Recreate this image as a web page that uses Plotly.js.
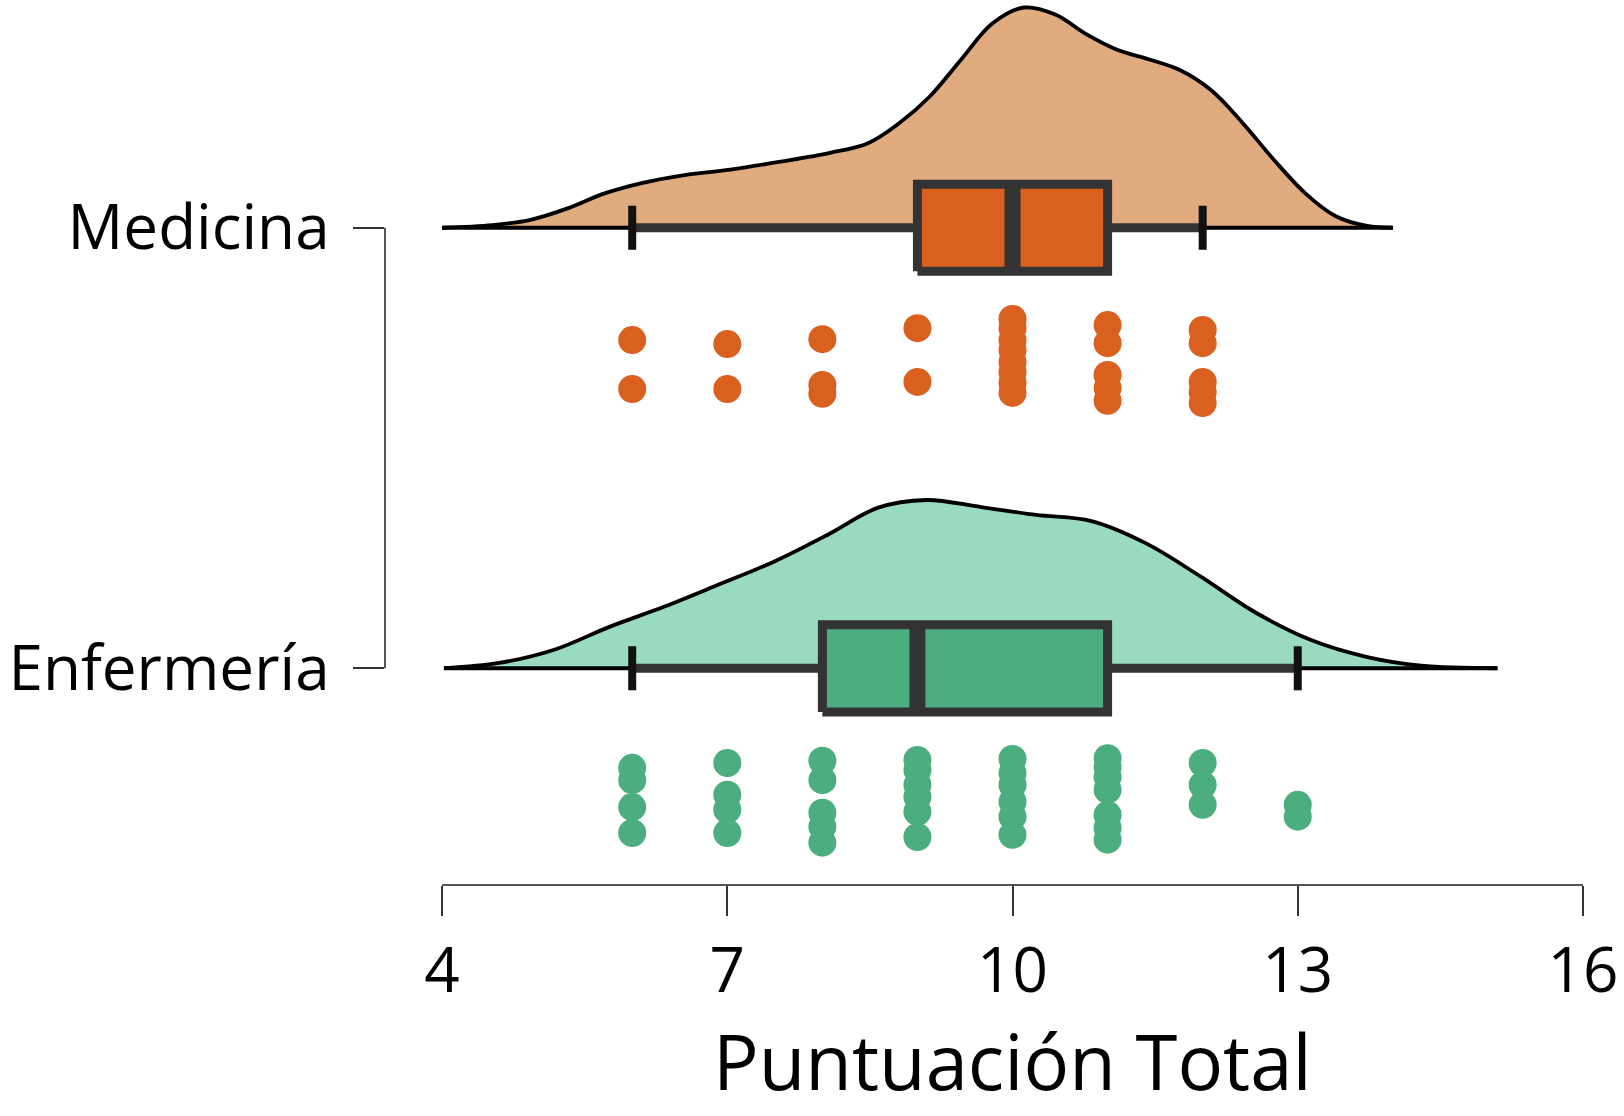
<!DOCTYPE html>
<html><head><meta charset="utf-8">
<script src="https://cdn.plot.ly/plotly-3.0.1.min.js"></script>
<style>html,body{margin:0;padding:0;background:#fff;}</style>
</head><body>
<div id="chart" style="width:1624px;height:1116px"></div>
<script>
// ---------- DATA ----------
const grupos = ['Medicina', 'Enfermería'];
const posGrupo = [2, 1];
const ticksX = [4, 7, 10, 13, 16];
const tituloX = 'Puntuación Total';

// Density (kernel estimate)
const densMedX = [4.0,4.53,4.93,5.32,5.71,6.11,6.50,7.03,7.56,8.08,8.48,8.80,9.13,9.46,9.79,10.12,10.45,10.77,11.10,11.44,11.76,12.09,12.42,12.75,13.08,13.40,13.73,14.0];
const densMedY = [0,0.003,0.009,0.022,0.039,0.051,0.059,0.066,0.075,0.085,0.096,0.118,0.149,0.191,0.232,0.250,0.242,0.220,0.202,0.191,0.179,0.156,0.119,0.077,0.039,0.013,0.002,0];
const densEnfX = [4.02,4.60,5.18,5.76,6.34,6.91,7.49,8.08,8.58,9.09,9.67,10.25,10.83,11.40,11.98,12.56,13.14,13.72,14.30,15.10];
const densEnfY = [0,0.006,0.021,0.047,0.070,0.095,0.121,0.153,0.182,0.191,0.183,0.174,0.167,0.142,0.104,0.063,0.032,0.013,0.003,0];

// Box statistics [Medicina, Enfermería]
const q1 = [9, 8];
const mediana = [10, 9];
const q3 = [11, 11];
const bigoteMin = [6, 6];
const bigoteMax = [12, 13];

// Individual scores and their vertical jitter
const puntosMed = [6,6,7,7,8,8,8,9,9,10,10,10,10,10,10,10,10,11,11,11,11,11,12,12,12,12,12];
const jitterMed = [-0.255,-0.366,-0.264,-0.366,-0.253,-0.357,-0.377,-0.228,-0.350,
  -0.207,-0.228,-0.255,-0.278,-0.305,-0.328,-0.352,-0.375,
  -0.221,-0.262,-0.334,-0.364,-0.393,
  -0.232,-0.262,-0.350,-0.373,-0.398];
const puntosEnf = [6,6,6,6,7,7,7,7,8,8,8,8,8,9,9,9,9,9,9,10,10,10,10,10,10,11,11,11,11,11,11,11,12,12,12,13,13];
const jitterEnf = [-0.226,-0.254,-0.315,-0.374,
  -0.215,-0.287,-0.321,-0.374,
  -0.210,-0.254,-0.328,-0.360,-0.396,
  -0.208,-0.231,-0.265,-0.292,-0.326,-0.383,
  -0.206,-0.238,-0.265,-0.303,-0.337,-0.378,
  -0.204,-0.224,-0.247,-0.276,-0.333,-0.362,-0.389,
  -0.215,-0.265,-0.310,
  -0.310,-0.337];

// ---------- STYLE ----------
const colDens = ['#E1AB80', '#9ADBC0'];
const colBox = ['#D9601F', '#4CAE7E'];
const colPts = ['#D9601F', '#4CAE7E'];
const escalaDens = 2.0;   // y units per density unit
const mediaCaja = 0.099;  // half box height (y units)
const mediaTope = 0.05;   // half whisker-cap height
const FONT = '"Open Sans", "Noto Sans", sans-serif';

const densX = [densMedX, densEnfX];
const densY = [densMedY, densEnfY];
const puntos = [puntosMed, puntosEnf];
const jitter = [jitterMed, jitterEnf];

const traces = [];
grupos.forEach((g, i) => {
  const b = posGrupo[i];
  traces.push({
    type: 'scatter', mode: 'lines', x: densX[i], y: densY[i].map(d => b + d * escalaDens),
    fill: 'toself', fillcolor: colDens[i],
    line: {color: '#000', width: 3.8, shape: 'spline', smoothing: 1},
    hoverinfo: 'skip', showlegend: false
  });
  const xs = densX[i];
  traces.push({
    type: 'scatter', mode: 'lines', x: [xs[0], xs[xs.length - 1]], y: [b, b],
    line: {color: '#000', width: 3.8}, hoverinfo: 'skip', showlegend: false
  });
  traces.push({
    type: 'scatter', mode: 'lines',
    x: [bigoteMin[i], q1[i], null, q3[i], bigoteMax[i]], y: [b, b, null, b, b],
    line: {color: '#333333', width: 9}, hoverinfo: 'skip', showlegend: false
  });
  traces.push({
    type: 'scatter', mode: 'lines',
    x: [bigoteMin[i], bigoteMin[i], null, bigoteMax[i], bigoteMax[i]],
    y: [b - mediaTope, b + mediaTope, null, b - mediaTope, b + mediaTope],
    line: {color: '#111111', width: 8}, hoverinfo: 'skip', showlegend: false
  });
  traces.push({
    type: 'scatter', mode: 'lines',
    x: [q1[i], q3[i], q3[i], q1[i], q1[i]],
    y: [b - mediaCaja, b - mediaCaja, b + mediaCaja, b + mediaCaja, b - mediaCaja],
    fill: 'toself', fillcolor: colBox[i],
    line: {color: '#333333', width: 9}, hoverinfo: 'skip', showlegend: false
  });
  traces.push({
    type: 'scatter', mode: 'lines',
    x: [mediana[i], mediana[i]], y: [b - mediaCaja, b + mediaCaja],
    line: {color: '#333333', width: 16}, hoverinfo: 'skip', showlegend: false
  });
  traces.push({
    type: 'scatter', mode: 'markers',
    x: puntos[i], y: jitter[i].map(j => b + j),
    marker: {color: colPts[i], size: 28, line: {width: 0}},
    hoverinfo: 'x', showlegend: false
  });
});

const layout = {
  width: 1624, height: 1116,
  margin: {l: 385, r: 41, t: 0, b: 231},
  paper_bgcolor: '#fff', plot_bgcolor: '#fff',
  showlegend: false,
  font: {family: FONT, color: '#000'},
  xaxis: {
    range: [3.4, 16], tickvals: ticksX, ticktext: ticksX.map(String),
    ticks: 'outside', ticklen: 30, tickwidth: 2, tickcolor: '#333',
    showline: false, showgrid: false, zeroline: false,
    tickfont: {family: FONT, size: 62, color: '#000'},
    ticklabelstandoff: 2,
    automargin: false, fixedrange: true
  },
  yaxis: {
    range: [0.508, 2.517], tickvals: posGrupo, ticktext: grupos,
    ticks: 'outside', ticklen: 31, tickwidth: 2, tickcolor: '#333',
    showline: false, showgrid: false, zeroline: false,
    tickfont: {family: FONT, size: 62, color: '#000'},
    ticklabelstandoff: 11,
    automargin: false, fixedrange: true
  },
  annotations: [{
    text: tituloX, xref: 'x', yref: 'paper',
    x: (ticksX[0] + ticksX[ticksX.length - 1]) / 2, y: 0,
    xanchor: 'center', yanchor: 'middle', yshift: -175, showarrow: false,
    borderpad: 0,
    font: {family: FONT, size: 76, color: '#000'}
  }],
  shapes: [
    {type: 'line', xref: 'x', yref: 'paper', x0: ticksX[0], x1: ticksX[ticksX.length - 1], y0: 0, y1: 0,
     line: {color: '#555', width: 2}},
    {type: 'line', xref: 'paper', yref: 'y', x0: 0, x1: 0, y0: Math.min(...posGrupo), y1: Math.max(...posGrupo),
     line: {color: '#555', width: 2}}
  ]
};

Plotly.newPlot('chart', traces, layout, {staticPlot: true, displayModeBar: false});
</script>
</body></html>
